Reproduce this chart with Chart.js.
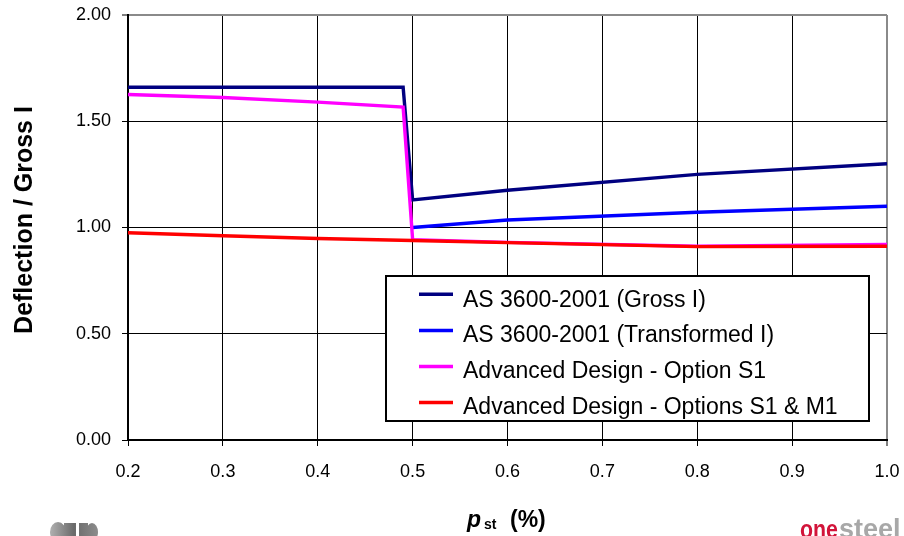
<!DOCTYPE html>
<html>
<head>
<meta charset="utf-8">
<script src="https://cdn.jsdelivr.net/npm/chart.js@4/dist/chart.umd.min.js"></script>
<style>
html,body{margin:0;padding:0;background:#fff;}
#wrap{width:904px;height:536px;position:relative;}
</style>
</head>
<body>
<div id="wrap"><canvas id="c" width="904" height="536"></canvas></div>
<script>
// ---- data ----
const seriesLabels = [
  'AS 3600-2001 (Gross I)',
  'AS 3600-2001 (Transformed I)',
  'Advanced Design - Option S1',
  'Advanced Design - Options S1 & M1'
];
const seriesColors = ['#000080', '#0000FF', '#FF00FF', '#FF0000'];

const xGross = [0.2, 0.49, 0.5, 0.6, 0.8, 1.0];
const yGross = [1.66, 1.66, 1.13, 1.175, 1.25, 1.30];

const xTrans = [0.5, 0.6, 0.8, 1.0];
const yTrans = [1.00, 1.035, 1.072, 1.10];

const xS1 = [0.2, 0.3, 0.4, 0.49, 0.5, 0.6, 0.8, 1.0];
const yS1 = [1.626, 1.612, 1.590, 1.567, 0.943, 0.930, 0.912, 0.920];

const xS1M1 = [0.2, 0.3, 0.4, 0.5, 0.6, 0.8, 1.0];
const yS1M1 = [0.975, 0.961, 0.948, 0.939, 0.929, 0.910, 0.912];

const xTicks = [0.2, 0.3, 0.4, 0.5, 0.6, 0.7, 0.8, 0.9, 1.0];
const yTicks = [0.00, 0.50, 1.00, 1.50, 2.00];

const yTitle = 'Deflection / Gross I';
const xTitleMain = 'p';
const xTitleSub = 'st';
const xTitleUnit = '(%)';

// ---- build ----
const FONT = '"Liberation Sans", Arial, Helvetica, sans-serif';
Chart.defaults.font.family = FONT;

function pts(xs, ys) { return xs.map((x, i) => ({ x: x, y: ys[i] })); }
const seriesX = [xGross, xTrans, xS1, xS1M1];
const seriesY = [yGross, yTrans, yS1, yS1M1];
const datasets = seriesLabels.map((lab, i) => ({
  label: lab,
  data: pts(seriesX[i], seriesY[i]),
  borderColor: seriesColors[i],
  backgroundColor: seriesColors[i],
  borderWidth: 3.4,
  pointRadius: 0,
  tension: 0,
  fill: false,
  order: seriesLabels.length - i
}));

const decor = {
  id: 'decor',
  afterDatasetsDraw(chart) {
    const ctx = chart.ctx;
    const bx = 386, by = 276, bw = 483, bh = 145;
    ctx.save();
    ctx.fillStyle = '#fff';
    ctx.fillRect(bx, by, bw, bh);
    ctx.strokeStyle = '#000';
    ctx.lineWidth = 2;
    ctx.strokeRect(bx, by, bw, bh);
    ctx.font = '23px ' + FONT;
    ctx.textAlign = 'left';
    ctx.textBaseline = 'alphabetic';
    chart.data.datasets.forEach((ds, i) => {
      const ly = 294.3 + i * 36.1;
      ctx.strokeStyle = ds.borderColor;
      ctx.lineWidth = 3.5;
      ctx.beginPath();
      ctx.moveTo(419, ly);
      ctx.lineTo(453, ly);
      ctx.stroke();
      ctx.fillStyle = '#000';
      ctx.fillText(ds.label, 463, 306.5 + i * 35.9);
    });
    ctx.restore();
  },
  afterDraw(chart) {
    const ctx = chart.ctx;
    ctx.save();
    ctx.translate(32, 220);
    ctx.rotate(-Math.PI / 2);
    ctx.font = 'bold 25px ' + FONT;
    ctx.fillStyle = '#000';
    ctx.textAlign = 'center';
    ctx.textBaseline = 'alphabetic';
    ctx.fillText(yTitle, 0, 0);
    ctx.restore();

    ctx.save();
    ctx.fillStyle = '#000';
    ctx.textAlign = 'left';
    ctx.textBaseline = 'alphabetic';
    ctx.font = 'italic bold 23px ' + FONT;
    ctx.fillText(xTitleMain, 467, 527);
    ctx.font = 'bold 14px ' + FONT;
    ctx.fillText(xTitleSub, 484, 529);
    ctx.font = 'bold 23px ' + FONT;
    ctx.fillText(xTitleUnit, 510, 527);
    ctx.restore();

    ctx.save();
    ctx.textBaseline = 'alphabetic';
    ctx.translate(800, 538);
    ctx.scale(0.82, 1);
    ctx.font = 'bold 26px ' + FONT;
    ctx.fillStyle = '#D2143A';
    ctx.fillText('one', 0, 0);
    ctx.restore();
    ctx.save();
    ctx.font = 'bold 27px ' + FONT;
    ctx.fillStyle = '#A8A8A8';
    ctx.fillText('steel', 839, 538);
    ctx.restore();

    ctx.save();
    const g = ctx.createLinearGradient(50, 0, 98, 0);
    g.addColorStop(0, '#b0b0b0');
    g.addColorStop(0.5, '#6a6a6a');
    g.addColorStop(1, '#8c8c8c');
    ctx.fillStyle = g;
    ctx.beginPath();
    ctx.ellipse(58, 532, 8, 10, 0, 0, Math.PI * 2);
    ctx.fill();
    ctx.fillRect(64, 523, 12, 13);
    ctx.fillRect(79, 523, 9, 13);
    ctx.beginPath();
    ctx.ellipse(92, 532, 6, 9, 0, 0, Math.PI * 2);
    ctx.fill();
    ctx.restore();
  }
};

const isMax = (v, m) => Math.abs(v - m) < 1e-6;

new Chart(document.getElementById('c'), {
  type: 'line',
  data: { datasets: datasets },
  options: {
    responsive: false,
    animation: false,
    devicePixelRatio: 1,
    events: [],
    layout: { padding: { top: 15, right: 17, left: 0, bottom: 0 } },
    plugins: { legend: { display: false }, tooltip: { enabled: false } },
    scales: {
      x: {
        type: 'linear',
        min: 0.2,
        max: 1.0,
        afterBuildTicks: s => { s.ticks = xTicks.map(v => ({ value: v })); },
        afterFit: s => { s.height = 96; s.paddingLeft = 0; s.paddingRight = 0; },
        grid: {
          color: c => (c.tick && isMax(c.tick.value, 1.0)) ? '#8a8a8a' : '#000',
          lineWidth: c => (c.tick && isMax(c.tick.value, 1.0)) ? 2 : 1,
          tickColor: '#000',
          tickWidth: 1,
          tickLength: 6,
          drawTicks: true
        },
        border: { color: '#000', width: 2 },
        ticks: {
          color: '#000',
          font: { size: 18 },
          padding: 15,
          maxRotation: 0,
          autoSkip: false,
          callback: v => Number(v).toFixed(1)
        }
      },
      y: {
        type: 'linear',
        min: 0,
        max: 2,
        afterBuildTicks: s => { s.ticks = yTicks.map(v => ({ value: v })); },
        afterFit: s => { s.width = 128; s.paddingTop = 0; s.paddingBottom = 0; },
        grid: {
          color: c => (c.tick && isMax(c.tick.value, 2.0)) ? '#8a8a8a' : '#000',
          lineWidth: c => (c.tick && isMax(c.tick.value, 2.0)) ? 2 : 1,
          tickColor: '#000',
          tickWidth: 1,
          tickLength: 6,
          drawTicks: true
        },
        border: { color: '#000', width: 2 },
        ticks: {
          color: '#000',
          font: { size: 18 },
          padding: 11,
          autoSkip: false,
          callback: v => Number(v).toFixed(2)
        }
      }
    }
  },
  plugins: [decor]
});
</script>
</body>
</html>
